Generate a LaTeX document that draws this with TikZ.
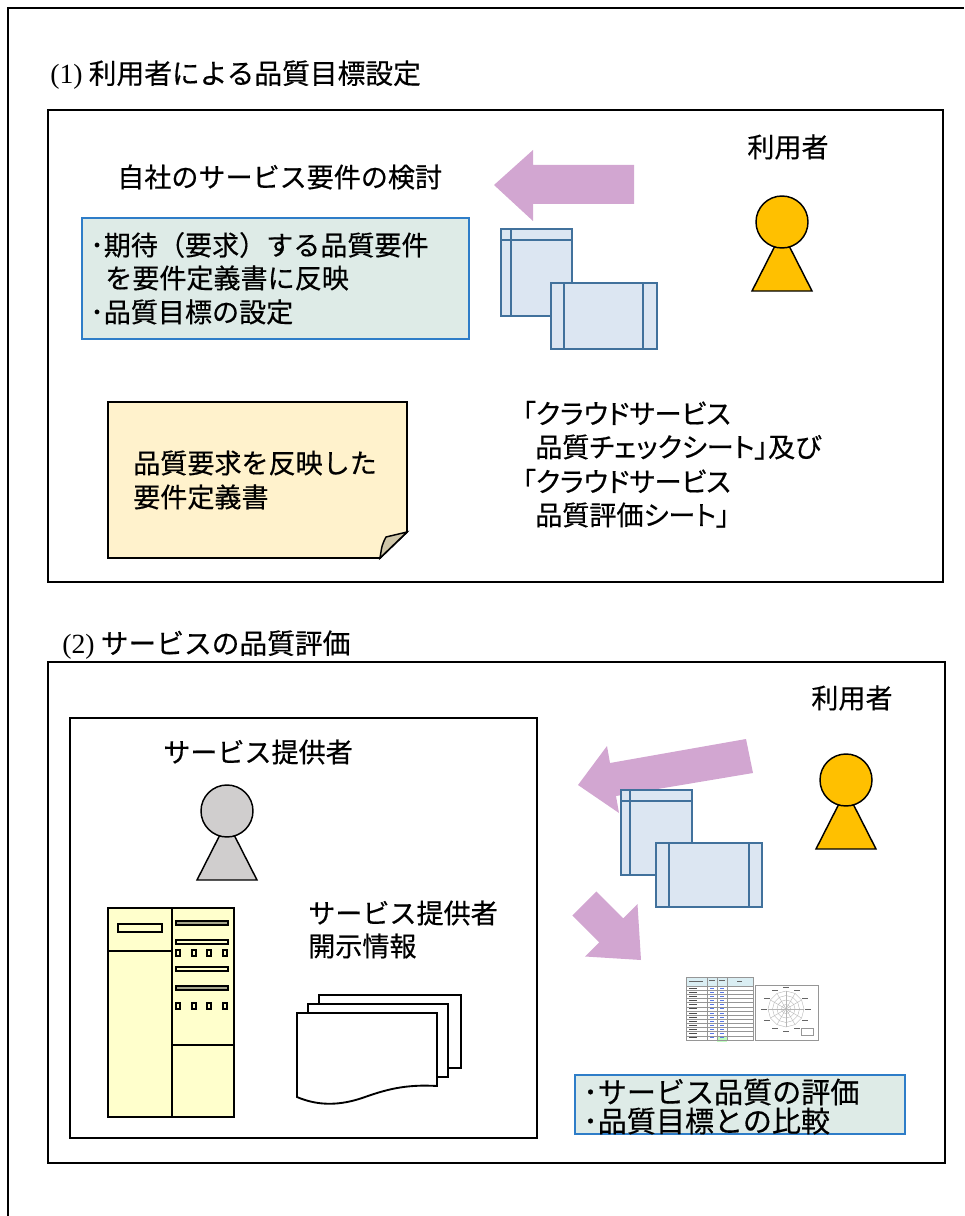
\documentclass[tikz,border=0pt]{standalone}
\usepackage{fontspec}
\setmainfont[FakeBold=0.45]{Noto Sans CJK JP}
\newfontfamily\tnr{Liberation Serif}
\usetikzlibrary{calc}

\definecolor{pinkarrow}{RGB}{210,166,209}
\definecolor{docfill}{RGB}{220,230,242}
\definecolor{docline}{RGB}{65,113,156}
\definecolor{userfill}{RGB}{255,192,0}
\definecolor{provfill}{RGB}{208,206,206}
\definecolor{notefill}{RGB}{222,235,231}
\definecolor{noteline}{RGB}{46,125,200}
\definecolor{stickyfill}{RGB}{255,242,204}
\definecolor{foldfill}{RGB}{207,198,168}
\definecolor{rackfill}{RGB}{255,255,204}
\definecolor{rackbar}{RGB}{166,166,140}
\definecolor{headcell}{RGB}{218,238,243}
\definecolor{gridgray}{RGB}{150,150,150}
\definecolor{valblue}{RGB}{90,120,230}

\tikzset{
  txt/.style={font=\fontsize{20.3}{24}\selectfont, inner sep=0pt, anchor=west},
  titletxt/.style={font=\fontsize{20.8}{24}\selectfont, inner sep=0pt, anchor=west},
  proptxt/.style={font=\fontsize{20.3}{24}\selectfont\addfontfeature{RawFeature=+palt},
    inner sep=0pt, anchor=west},
  bigtxt/.style={font=\fontsize{21.8}{26}\selectfont, inner sep=0pt, anchor=west},
  panel/.style={line width=1.8pt},
  sheet/.style={draw=docline, fill=docfill, line width=1.5pt},
  sheetrule/.style={draw=docline, line width=1.5pt},
  notebox/.style={draw=noteline, fill=notefill, line width=0.9pt},
  rack/.style={draw=black, fill=rackfill, line width=1.4pt},
  paper/.style={draw=black, fill=white, line width=1.4pt},
  pics/person/.style={code={
    \draw[line width=1.1pt, fill=#1] (0,10) -- (-30,69) -- (30,69) -- cycle;
    \draw[line width=1.1pt, fill=#1] (0,0) circle[radius=26];
  }}
}

\begin{document}
\begin{tikzpicture}[x=0.75pt,y=-0.75pt]
\useasboundingbox (0,0) rectangle (964,1216);

% outer frame (continues past the page on the right and bottom)
\draw[line width=1.2pt] (8,1216) -- (8,8) -- (964,8);

% ---------------- (1) quality targets set by the user ----------------
\node[titletxt] (title1) at (50,75) {{\tnr (1)} 利用者による品質目標設定};
\draw[panel] (48,110) rectangle (943,582);

\node[txt, anchor=center] (user1) at (788,147) {利用者};
\node[txt] (task1) at (117,177) {自社のサービス要件の検討};

% arrow towards the requirement study
\fill[pinkarrow] (494,185) -- (533,150) -- (533,165) -- (634,165)
  -- (634,204) -- (533,204) -- (533,221) -- cycle;

% check sheet and evaluation sheet
\draw[sheet] (501,229) rectangle (572,316);
\draw[sheetrule] (511,229) -- (511,316) (501,240) -- (572,240);
\draw[sheet] (551,283) rectangle (657,349);
\draw[sheetrule] (564,283) -- (564,349) (643,283) -- (643,349);

\pic at (782,222) {person=userfill};

% requirement notes
\draw[notebox] (82,218) rectangle (469,339);
\node[txt] (req1) at (90,245) {･期待（要求）する品質要件};
\node[txt] (req2) at (105,278) {を要件定義書に反映};
\node[txt] (req3) at (90,312) {･品質目標の設定};

% requirement definition document (sticky note)
\draw[line width=1.4pt, fill=stickyfill] (108,402) -- (407,402) -- (407,532)
  -- (380,558) -- (108,558) -- cycle;
\draw[line width=1.1pt, fill=foldfill] (407,532) -- (386,537)
  .. controls (382,545) .. (380,558) -- cycle;
\node[txt] (doc1) at (133,463) {品質要求を反映した};
\node[txt] (doc2) at (133,497) {要件定義書};

\node[proptxt] (sheets1) at (522,413) {「クラウドサービス};
\node[proptxt] (sheets2) at (535,447) {品質チェックシート」及び};
\node[proptxt] (sheets3) at (522,481) {「クラウドサービス};
\node[proptxt] (sheets4) at (535,515) {品質評価シート」};

% ---------------- (2) service quality evaluation ----------------
\node[titletxt] (title2) at (62,645) {{\tnr (2)} サービスの品質評価};
\draw[panel] (48,662) rectangle (945,1163);
\draw[panel] (70,718) rectangle (537,1138);

\node[txt] (prov) at (163,752) {サービス提供者};
\pic at (227,811) {person=provfill};

% server rack
\draw[rack] (108,908) rectangle (234,1117);
\draw[line width=1.4pt] (172,908) -- (172,1117);
\draw[line width=1.4pt] (108,951) -- (172,951);
\draw[line width=1.4pt] (172,1045) -- (234,1045);
\draw[rack, line width=1.1pt] (118,924) rectangle (162,932);
\draw[line width=0.8pt, fill=rackbar] (176,921) rectangle (228,925);
\draw[rack, line width=1.1pt] (176,940) rectangle (228,944);
\draw[rack, line width=1.1pt] (176,967) rectangle (228,971);
\draw[line width=0.8pt, fill=rackbar] (176,986) rectangle (228,990);
\foreach \sx in {178,194,209,225}{
  \draw[rack, line width=1.1pt] (\sx-2,950) rectangle (\sx+2,956);
  \draw[rack, line width=1.1pt] (\sx-2,1003) rectangle (\sx+2,1009);
}

% disclosed information (stack of pages)
\node[txt] (disc1) at (308,913) {サービス提供者};
\node[txt] (disc2) at (308,946) {開示情報};
\draw[paper] (319,995) rectangle (461,1068);
\draw[paper] (308,1004) rectangle (448,1077);
\draw[paper] (297,1013) -- (437,1013) -- (437,1086)
  .. controls (405,1084) and (385,1090) .. (365,1097)
  .. controls (340,1106) and (318,1106) .. (297,1097) -- cycle;

% user side
\node[txt, anchor=center] (user2) at (852,698) {利用者};
\pic at (846,780) {person=userfill};

\fill[pinkarrow] (578,785) -- (607,746) -- (610,763) -- (746,739)
  -- (753,773) -- (616,796) -- (619,813) -- cycle;

\draw[sheet] (621,790) rectangle (692,875);
\draw[sheetrule] (630,790) -- (630,875) (621,801) -- (692,801);
\draw[sheet] (656,843) rectangle (762,907);
\draw[sheetrule] (669,843) -- (669,907) (749,843) -- (749,907);

% arrow down to the evaluation
\fill[pinkarrow] (641,960) -- (637.5,904.1) -- (623.3,918.3) -- (596.4,891.4)
  -- (572.4,915.4) -- (599.3,942.3) -- (585.1,956.5) -- cycle;

% evaluation sheet thumbnail
\fill[headcell] (686,977) rectangle (753,986);
\fill[green!25] (717,1036) rectangle (727,1042);
\foreach \i in {0,...,12}{
  \pgfmathsetmacro{\ry}{986+\i*4.15}
  \draw[gridgray, line width=0.25pt] (686,\ry) -- (753,\ry);
  \draw[black!70, line width=0.5pt] (689,\ry+2) -- (697,\ry+2);
  \draw[valblue, line width=0.5pt] (710,\ry+2) -- (714,\ry+2);
  \draw[valblue, line width=0.5pt] (720,\ry+2) -- (724,\ry+2);
}
\draw[black!60, line width=0.4pt] (689,981) -- (703,981) (709,980) -- (715,980)
  (719,980) -- (725,980) (737,981) -- (742,981);
\draw[gridgray, line width=0.6pt] (686,977) rectangle (753,1040);
\draw[gridgray, line width=0.4pt] (707,977) -- (707,1040) (717,977) -- (717,1040)
  (727,977) -- (727,1040);

% radar chart thumbnail
\draw[gridgray, line width=0.5pt] (755,985) rectangle (818,1040);
\foreach \r in {4.5,9,13.5,18}{
  \draw[gridgray!70, line width=0.3pt] (786,1009) ++(90:\r)
    \foreach \k in {1,...,12}{ -- ($(786,1009)+(90+30*\k:\r)$) };
}
\foreach \k in {0,...,11}{
  \draw[gridgray!70, line width=0.3pt] (786,1009) -- ++(30*\k:18);
  \draw[black!60, line width=0.5pt] ($(786,1009)+(30*\k:22)+(-3,0)$) -- ++(6,0);
}
\draw[gridgray, line width=0.4pt] (801,1028) rectangle (813,1035);

% evaluation notes
\draw[notebox] (575,1075) rectangle (905,1134);
\node[bigtxt] (eval1) at (583,1092) {･サービス品質の評価};
\node[bigtxt] (eval2) at (583,1121) {･品質目標との比較};

\end{tikzpicture}
\end{document}
